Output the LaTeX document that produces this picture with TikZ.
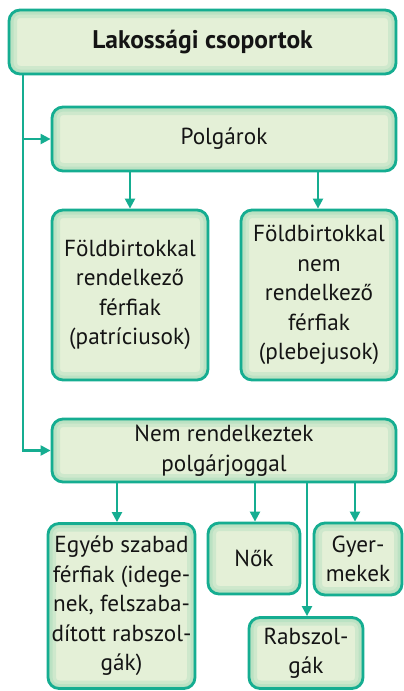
\documentclass[tikz,border=0pt]{standalone}
\usepackage{fontspec}
\setmainfont{PT Sans}
\usetikzlibrary{arrows.meta,calc}
\definecolor{bordc}{HTML}{15AD91}
\definecolor{fillc}{HTML}{E4F0D7}
\definecolor{glowc}{HTML}{A6DBBA}
\tikzset{
  box/.style={draw=bordc, line width=2.8pt, rounded corners=11pt, fill=fillc,
    align=center, inner sep=0pt, text=black!92,
    font=\fontsize{23.2}{29.5}\selectfont,
    path picture={
      \draw[glowc, line width=16pt, rounded corners=11pt, opacity=0.35]
        (path picture bounding box.south west) rectangle (path picture bounding box.north east);
      \draw[glowc, line width=9pt, rounded corners=11pt, opacity=0.45]
        (path picture bounding box.south west) rectangle (path picture bounding box.north east);
      \draw[glowc, line width=4pt, rounded corners=11pt, opacity=0.6]
        (path picture bounding box.south west) rectangle (path picture bounding box.north east);
    }},
  conn/.style={draw=bordc, line width=2.2pt},
  arr/.style={conn, -{Triangle[length=10pt,width=10pt]}}
}
\begin{document}
\begin{tikzpicture}[x=1pt,y=-1pt]
\useasboundingbox (0,0) rectangle (404,691);
\node[box, minimum width=387pt, minimum height=64pt,
  font=\fontsize{25.5}{29}\selectfont\bfseries] (top) at (202.5,42) {Lakossági csoportok};
\node[box, minimum width=344pt, minimum height=64pt] (polg) at (224,139) {Polgárok};
\node[box, minimum width=156pt, minimum height=170pt] (patr) at (130,295)
  {Földbirtokkal\\rendelkező\\férfiak\\(patríciusok)};
\node[box, minimum width=156pt, minimum height=170pt] (pleb) at (319,295)
  {Földbirtokkal\\nem\\rendelkező\\férfiak\\(plebejusok)};
\node[box, minimum width=344pt, minimum height=63pt] (nr) at (224,450.5)
  {Nem rendelkeztek\\polgárjoggal};
\node[box, minimum width=147pt, minimum height=165pt] (egyeb) at (121.5,606)
  {Egyéb szabad\\férfiak (idege-\\nek, felszaba-\\dított rabszol-\\gák)};
\node[box, minimum width=92pt, minimum height=71pt] (nok) at (254,558.5) {Nők};
\node[box, minimum width=88pt, minimum height=72pt] (gyer) at (358,559) {Gyer-\\mekek};
\node[box, minimum width=114pt, minimum height=71pt] (rab) at (306,653) {Rabszol-\\gák};
\coordinate (trunk) at (23,0);
\draw[arr] (trunk |- top.south) |- (nr.west);
\draw[arr] (trunk |- polg.west) -- (polg.west);
\draw[arr] (polg.south -| patr.north) -- (patr.north);
\draw[arr] ([xshift=-1pt]polg.south -| pleb.north) -- ([xshift=-1pt]pleb.north);
\draw[arr] ([xshift=-4.5pt]nr.south -| egyeb.north) -- ([xshift=-4.5pt]egyeb.north);
\draw[arr] ([xshift=1pt]nr.south -| nok.north) -- ([xshift=1pt]nok.north);
\draw[arr] ([xshift=-3pt]nr.south -| gyer.north) -- ([xshift=-3pt]gyer.north);
\draw[arr] ([xshift=1pt]nr.south -| rab.north) -- ([xshift=1pt]rab.north);
\end{tikzpicture}
\end{document}
